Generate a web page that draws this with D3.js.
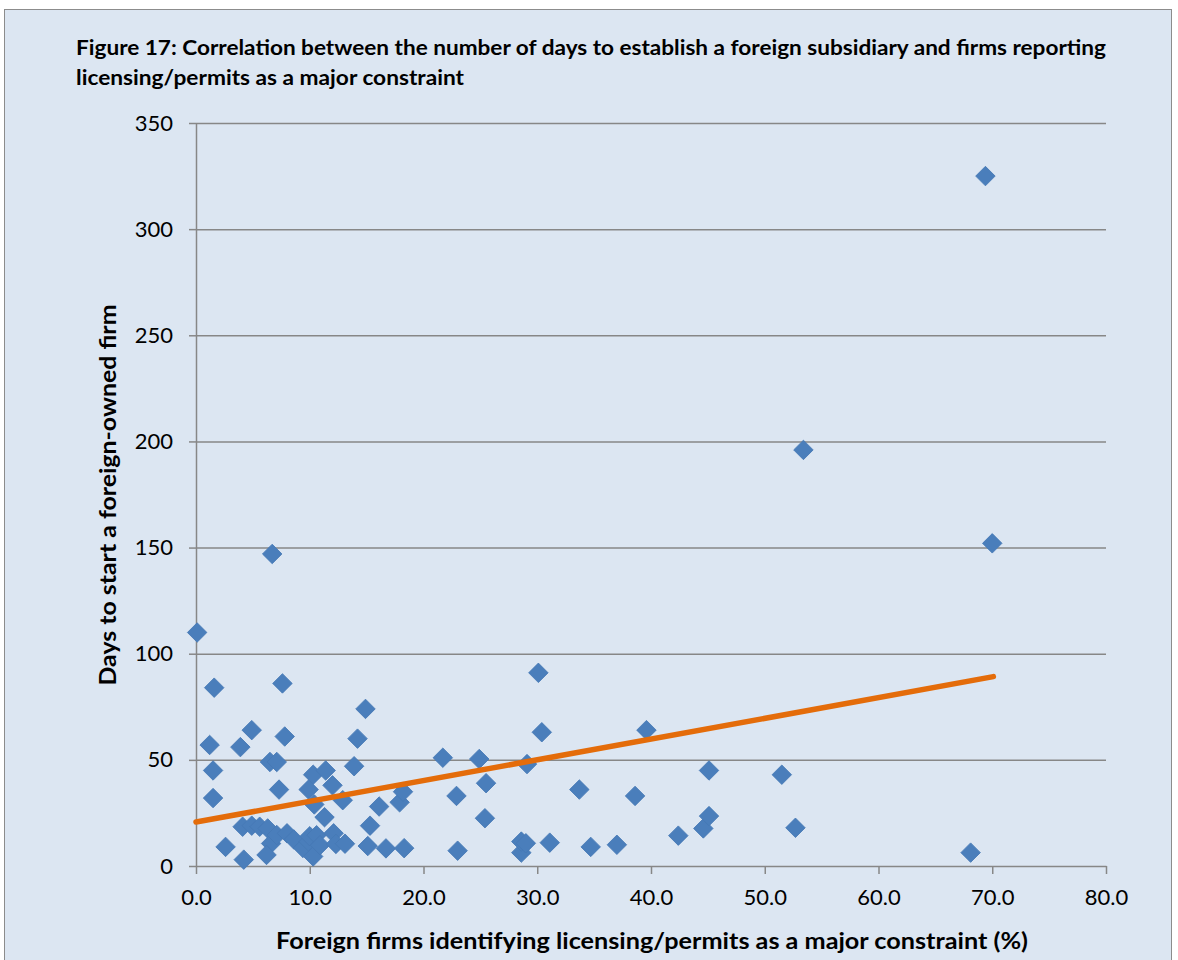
<!DOCTYPE html>
<html>
<head>
<meta charset="utf-8">
<script src="https://cdn.jsdelivr.net/npm/d3@7"></script>
<style>
  html, body { margin: 0; padding: 0; background: #ffffff; }
  svg { display: block; }
  text { font-family: Lato, "Open Sans", sans-serif; fill: #000; }
</style>
</head>
<body>
<svg id="chart" width="1178" height="960"></svg>
<script>
// ---- data ----
const titleLines = [
  "Figure 17: Correlation between the number of days to establish a foreign subsidiary and firms reporting",
  "licensing/permits as a major constraint"
];
const xAxisTitle = "Foreign firms identifying licensing/permits as a major constraint (%)";
const yAxisTitle = "Days to start a foreign-owned firm";

const xTicks = [0, 10, 20, 30, 40, 50, 60, 70, 80];
const yTicks = [0, 50, 100, 150, 200, 250, 300, 350];

// % of foreign firms identifying licensing/permits as a major constraint
const pctFirms = [
  0.1, 6.7, 1.6, 7.6, 1.2, 1.5, 1.5, 3.9, 4.9, 7.8, 6.5, 7.1, 7.3,
  2.6, 4.2, 4.1, 4.9, 5.6, 6.3, 6.6, 6.2, 7.1, 8.0, 8.6, 9.4, 9.9, 10.0, 10.6, 10.3, 10.9,
  12.1, 12.3, 13.1,
  10.3, 11.4, 12.0, 9.9, 12.9, 10.4, 11.3, 14.9, 14.2, 13.9, 16.1, 17.9, 18.2, 15.3,
  15.1, 16.7, 18.3,
  21.7, 24.9, 25.5, 22.9, 25.4, 23.0, 29.1, 30.1, 30.4, 28.6, 28.6, 29.0, 31.1,
  33.7, 34.7, 37.0, 38.6, 39.6, 42.4, 44.6, 45.1, 45.1,
  51.5, 52.7, 53.4, 68.1, 69.4, 70.0
];
// Days to start a foreign-owned firm
const daysToStart = [
  110, 147, 84, 86, 57, 45, 32, 56, 64, 61, 49, 49, 36,
  9, 3, 18.5, 19, 18.5, 17.7, 10.6, 5.2, 14.6, 15.4, 12.5, 8.5, 11.5, 14, 14.5, 4.5, 9.8,
  15.4, 10.4, 10.5,
  43, 45, 38, 36, 31, 29, 23, 74, 60, 47, 28, 30, 35, 19,
  9.4, 8.3, 8.4,
  51, 50.4, 39, 33, 22.5, 7.2, 48, 91, 63, 6.3, 11.5, 10.7, 11,
  36, 9, 10, 33, 64, 14.3, 17.7, 23.5, 45,
  43, 18, 196, 6.3, 325, 152
];
// linear trend line end points (x, y)
const trendX = [0, 70.1];
const trendY = [20.7, 89.2];

// ---- drawing ----
const svg = d3.select("#chart");
const plot = { left: 196, right: 1106, top: 123, bottom: 866 };

// chart area background with border
svg.append("rect")
  .attr("x", 4.5).attr("y", 9.5)
  .attr("width", 1167).attr("height", 960)
  .attr("fill", "#dce6f2")
  .attr("stroke", "#8c8c8c")
  .attr("stroke-width", 1);

const x = d3.scaleLinear().domain([0, 80]).range([plot.left, plot.right]);
const y = d3.scaleLinear().domain([0, 350]).range([plot.bottom, plot.top]);

// gridlines
const grid = svg.append("g")
  .attr("transform", `translate(${plot.left},0)`)
  .call(d3.axisLeft(y).tickValues(yTicks.filter(d => d > 0))
    .tickSize(-(plot.right - plot.left)).tickFormat(""));
grid.select(".domain").remove();
grid.selectAll("line").attr("stroke", "#878787").attr("stroke-width", 1.5);

// y axis
const yAxis = svg.append("g")
  .attr("transform", `translate(${plot.left},0)`)
  .call(d3.axisLeft(y).tickValues(yTicks).tickSize(7).tickSizeOuter(0).tickPadding(16)
    .tickFormat(d3.format("d")));
yAxis.select(".domain").attr("stroke", "#878787").attr("stroke-width", 1.5);
yAxis.selectAll(".tick line").attr("stroke", "#878787").attr("stroke-width", 1.5);
yAxis.selectAll(".tick text")
  .style("font-family", "Lato, sans-serif").style("font-size", "22px").attr("fill", "#000");

// x axis
const xAxis = svg.append("g")
  .attr("transform", `translate(0,${plot.bottom})`)
  .call(d3.axisBottom(x).tickValues(xTicks).tickSize(8).tickSizeOuter(0).tickPadding(15)
    .tickFormat(d3.format(".1f")));
xAxis.select(".domain").attr("stroke", "#878787").attr("stroke-width", 1.5);
xAxis.selectAll(".tick line").attr("stroke", "#878787").attr("stroke-width", 1.5);
xAxis.selectAll(".tick text")
  .style("font-family", "Lato, sans-serif").style("font-size", "22px").attr("fill", "#000");

// points
const pts = pctFirms.map((v, i) => ({ x: v, y: daysToStart[i] }));
const diamond = d3.symbol().type(d3.symbolSquare).size(190);
svg.append("g").selectAll("path")
  .data(pts)
  .join("path")
  .attr("d", diamond)
  .attr("transform", d => `translate(${x(d.x)},${y(d.y)}) rotate(45)`)
  .attr("fill", "#4a7ebb")
  .attr("stroke", "#4678b5")
  .attr("stroke-width", 0.8);

// trend line
svg.append("line")
  .attr("x1", x(trendX[0])).attr("y1", y(trendY[0]))
  .attr("x2", x(trendX[1])).attr("y2", y(trendY[1]))
  .attr("stroke", "#e46c0a")
  .attr("stroke-width", 5.5)
  .attr("stroke-linecap", "round");

// title
svg.append("text")
  .attr("x", 76).attr("y", 55)
  .attr("textLength", 1030).attr("lengthAdjust", "spacingAndGlyphs")
  .style("font-size", "20.5px").style("font-weight", "bold")
  .text(titleLines[0]);
svg.append("text")
  .attr("x", 76).attr("y", 85)
  .attr("textLength", 388).attr("lengthAdjust", "spacingAndGlyphs")
  .style("font-size", "20.5px").style("font-weight", "bold")
  .text(titleLines[1]);

// axis titles
svg.append("text")
  .attr("x", 652).attr("y", 949)
  .attr("text-anchor", "middle")
  .attr("textLength", 752).attr("lengthAdjust", "spacingAndGlyphs")
  .style("font-size", "22px").style("font-weight", "bold")
  .text(xAxisTitle);

svg.append("text")
  .attr("transform", `translate(116,495) rotate(-90)`)
  .attr("text-anchor", "middle")
  .attr("textLength", 381).attr("lengthAdjust", "spacingAndGlyphs")
  .style("font-size", "22px").style("font-weight", "bold")
  .text(yAxisTitle);
</script>
</body>
</html>
